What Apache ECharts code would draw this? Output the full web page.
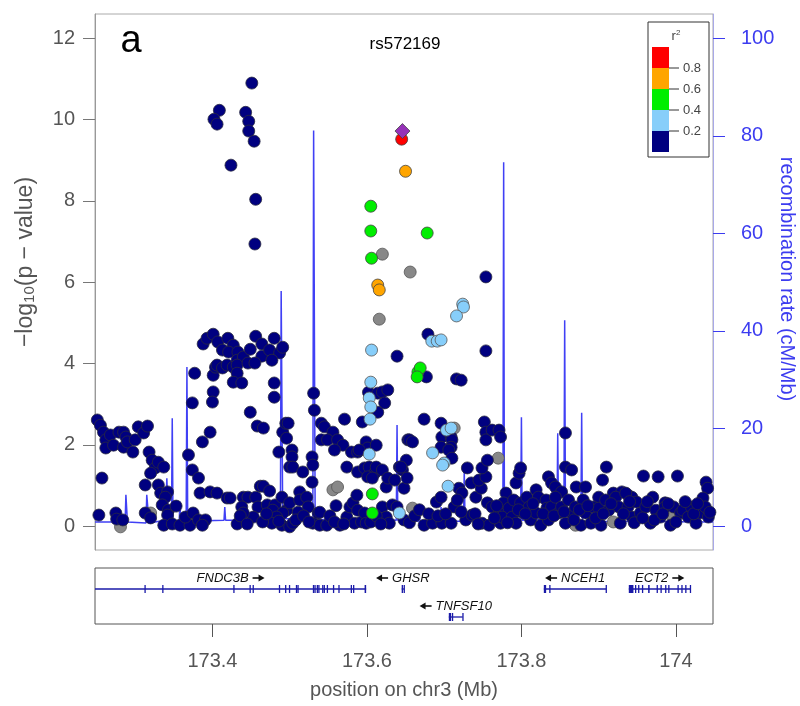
<!DOCTYPE html>
<html>
<head>
<meta charset="utf-8">
<script src="https://cdn.jsdelivr.net/npm/echarts@6/dist/echarts.min.js"></script>
<style>html,body{margin:0;padding:0;background:#fff}#c{width:800px;height:706px}</style>
</head>
<body>
<div id="c"></div>
<script>
// ---------- data ----------
const X_MIN = 173.248, X_MAX = 174.048;
const xTicks = [173.4, 173.6, 173.8, 174];
const pTicks = [0, 2, 4, 6, 8, 10, 12];
const recTicks = [0, 20, 40, 60, 80, 100];
const legendBreaks = ['0.8', '0.6', '0.4', '0.2'];

const leadSnp = [[173.646, 9.72]];
const snpRed = [[173.645, 9.52]];
const snpOrange = [[173.650, 8.73], [173.614, 5.93], [173.616, 5.81]];
const snpGreen = [[173.605, 7.87], [173.605, 7.26], [173.606, 6.59], [173.678, 7.21], [173.666, 3.79], [173.669, 3.89], [173.665, 3.67], [173.607, 0.79], [173.607, 0.32]];
const snpLightBlue = [[173.724, 5.46], [173.725, 5.39], [173.716, 5.17], [173.684, 4.55], [173.691, 4.55], [173.696, 4.58], [173.606, 4.33], [173.605, 3.54], [173.603, 3.15], [173.605, 2.93], [173.604, 2.63], [173.603, 1.77], [173.642, 0.32], [173.685, 1.80], [173.703, 2.36], [173.709, 2.41], [173.700, 1.55], [173.698, 1.50], [173.705, 0.98]];
const snpGray = [[173.620, 6.69], [173.656, 6.25], [173.616, 5.09], [173.770, 1.67], [173.556, 0.89], [173.562, 0.96], [173.281, -0.02], [173.320, 0.32], [173.659, 0.44], [173.996, 0.22], [173.919, 0.10], [173.870, 0.02], [173.713, 2.41]];
const snpNavy = [
 [173.451,10.90],[173.409,10.23],[173.402,10.01],[173.406,9.89],[173.443,10.18],[173.447,9.96],[173.447,9.72],[173.454,9.47],[173.424,8.88],[173.456,8.04],[173.455,6.94],
 [173.754,6.13],[173.754,4.31],[173.679,4.72],[173.639,4.18],
 [173.388,4.48],[173.393,4.62],[173.401,4.72],[173.407,4.53],[173.413,4.33],[173.420,4.62],[173.427,4.45],[173.421,4.28],[173.433,4.28],[173.432,4.08],[173.440,4.16],[173.449,4.35],[173.456,4.67],[173.464,4.48],[173.464,4.18],[173.474,4.33],[173.480,4.62],[173.487,4.26],[173.491,4.40],
 [173.401,3.71],[173.404,3.91],[173.406,3.96],[173.413,3.89],[173.419,3.96],[173.427,3.91],[173.432,3.96],[173.432,3.76],[173.427,3.54],[173.438,3.52],[173.446,4.01],[173.455,4.01],[173.477,4.08],[173.401,3.30],[173.400,3.05],[173.377,3.76],[173.374,3.03],[173.480,3.52],[173.480,3.17],
 [173.251,2.61],[173.255,2.48],[173.259,2.31],[173.262,2.12],[173.262,1.92],[173.268,2.24],[173.272,1.99],[173.279,2.31],[173.285,2.31],[173.288,2.19],[173.285,1.94],[173.290,2.07],[173.297,1.82],[173.300,2.12],[173.304,2.44],[173.311,2.29],[173.316,2.46],[173.318,1.82],[173.322,1.62],[173.326,1.43],[173.320,1.30],[173.330,1.57],[173.337,1.45],[173.257,1.18],[173.313,1.01],[173.330,1.01],[173.333,0.81],[173.342,0.84],[173.339,0.71],[173.335,0.52],[173.343,0.39],[173.353,0.49],[173.342,0.27],[173.337,0.02],[173.348,0.05],[173.358,0.02],[173.371,0.02],[173.365,0.22],[173.375,0.32],[173.382,0.15],[173.391,0.15],[173.387,0.02],[173.253,0.27],[173.275,0.32],[173.276,0.17],[173.284,0.15],[173.313,0.32],[173.320,0.20],[173.369,1.75],[173.374,1.38],[173.382,1.18],[173.387,2.07],[173.397,2.31],[173.384,0.81],[173.397,0.84],[173.406,0.81],[173.419,0.69],[173.423,0.69],[173.449,2.80],[173.458,2.46],[173.466,2.41],[173.486,1.82],[173.491,2.31],[173.495,2.53],[173.498,2.53],[173.496,2.16],[173.503,1.87],[173.503,1.70],[173.500,1.45],[173.504,1.45],[173.517,1.33],[173.529,1.70],[173.530,1.50],[173.529,1.08],[173.531,3.27],[173.532,2.85],[173.440,0.71],[173.446,0.71],[173.456,0.71],[173.462,0.98],[173.466,0.98],[173.474,0.86],[173.459,0.47],[173.471,0.52],[173.481,0.52],[173.478,0.39],[173.490,0.71],[173.496,0.39],[173.500,0.57],[173.513,0.84],[173.513,0.64],[173.522,0.71],[173.524,0.47],[173.511,0.34],[173.491,0.32],[173.483,0.22],[173.477,0.07],[173.453,0.22],[173.438,0.47],[173.440,0.32],[173.490,0.02],[173.500,-0.02],[173.504,0.07],[173.530,0.07],[173.539,0.02],[173.548,0.02],[173.537,0.32],[173.539,0.34],
 [173.541,2.53],[173.545,2.44],[173.556,2.31],[173.541,2.12],[173.549,2.12],[173.562,2.12],[173.569,1.99],[173.558,1.87],[173.571,2.63],[173.580,1.82],[173.588,1.82],[173.599,2.07],[173.601,1.92],[173.612,1.99],[173.594,2.56],[173.602,3.29],[173.614,3.27],[173.620,3.30],[173.627,3.35],[173.623,3.03],[173.614,2.80],[173.590,1.87],[173.574,1.45],[173.588,1.33],[173.597,1.43],[173.603,1.45],[173.610,1.30],[173.612,1.45],[173.620,1.38],[173.601,1.21],[173.607,1.18],[173.625,0.96],[173.627,1.18],[173.636,1.13],[173.642,1.45],[173.646,1.38],[173.648,0.93],[173.651,1.62],[173.653,2.12],[173.565,0.02],[173.574,0.22],[173.578,0.47],[173.582,0.57],[173.587,0.76],[173.588,0.39],[173.584,0.07],[173.593,0.10],[173.597,0.32],[173.599,0.07],[173.620,0.47],[173.625,0.22],[173.629,0.07],[173.633,0.52],[173.639,0.47],[173.648,0.15],
 [173.677,3.67],[173.716,3.62],[173.722,3.59],[173.674,2.63],[173.655,2.12],[173.659,2.07],[173.696,2.53],[173.697,2.19],[173.696,1.94],[173.709,2.19],[173.710,2.12],[173.709,1.94],[173.706,1.87],[173.710,1.67],[173.644,1.45],[173.652,1.18],[173.690,0.59],[173.696,0.71],[173.674,0.02],[173.685,0.07],[173.697,0.07],[173.709,0.07],[173.713,0.47],[173.719,0.93],[173.723,0.81],[173.717,0.64],[173.728,0.15],[173.735,1.06],[173.741,0.71],[173.748,0.93],[173.745,1.13],[173.754,1.21],[173.749,1.43],[173.730,1.43],[173.752,2.56],[173.754,2.31],[173.754,2.12],[173.762,2.36],[173.771,2.36],[173.773,2.19],[173.756,1.62],[173.736,0.27],[173.749,0.07],[173.758,0.02],[173.756,0.57],[173.762,0.47],[173.771,0.32],[173.773,0.07],[173.857,2.29],[173.857,1.45],[173.865,1.38],[173.793,1.06],[173.797,1.30],[173.799,1.43],[173.819,0.89],[173.835,1.21],[173.839,1.06],[173.844,0.96],[173.852,0.84],[173.871,0.96],[173.883,0.96],[173.900,0.71],[173.910,1.45],[173.905,1.13],[173.919,0.81],[173.930,0.84],[173.938,0.76],[173.943,0.71],[173.958,1.23],[173.977,1.21],[174.002,1.23],[173.970,0.71],[173.986,0.57],[174.039,1.08],[174.041,0.93],[174.035,0.69],
 [173.780,0.81],[173.777,0.57],[173.784,0.44],[173.775,0.22],[173.788,0.22],[173.793,0.07],[173.790,0.64],[173.799,0.57],[173.801,0.34],[173.807,0.71],[173.810,0.47],[173.812,0.15],[173.819,0.32],[173.822,0.71],[173.825,0.02],[173.832,0.64],[173.833,0.44],[173.835,0.15],[173.839,0.47],[173.844,0.71],[173.848,0.32],[173.852,0.47],[173.857,0.07],[173.861,0.64],[173.865,0.32],[173.870,0.47],[173.877,0.02],[173.880,0.64],[173.883,0.32],[173.890,0.07],[173.893,0.47],[173.900,0.44],[173.903,0.02],[173.909,0.64],[173.913,0.39],[173.922,0.71],[173.926,0.47],[173.928,0.07],[173.935,0.81],[173.938,0.47],[173.943,0.22],[173.949,0.59],[173.954,0.32],[173.961,0.47],[173.967,0.07],[173.974,0.39],[173.980,0.22],[173.986,0.47],[173.993,0.02],[173.997,0.47],[174.006,0.32],[174.009,0.39],[174.016,0.22],[174.020,0.47],[174.026,0.07],[174.031,0.32],[174.038,0.47],[174.042,0.22],[174.044,0.34],
 [173.432,0.05],[173.436,0.25],[173.445,0.05],[173.465,0.10],[173.470,0.30],[173.486,0.12],[173.508,0.15],[173.518,0.25],[173.525,0.10],[173.552,0.25],[173.558,0.10],[173.560,0.50],[173.570,0.05],[173.605,0.10],[173.612,0.25],[173.618,0.05],[173.655,0.08],[173.662,0.25],[173.668,0.40],[173.680,0.30],[173.692,0.25],[173.702,0.30],[173.722,0.35],[173.740,0.30],[173.744,0.05],[173.765,0.20],[173.768,0.50],[173.782,0.08],[173.796,0.40],[173.805,0.30],[173.815,0.55],[173.828,0.30],[173.842,0.25],[173.855,0.35],[173.868,0.15],[173.875,0.40],[173.886,0.50],[173.896,0.20],[173.906,0.30],[173.916,0.55],[173.932,0.30],[173.940,0.60],[173.946,0.08],[173.957,0.20],[173.963,0.60],[173.972,0.15],[173.983,0.30],[173.990,0.55],[174.000,0.10],[174.012,0.60],[174.023,0.30],[174.028,0.55]
];

const recombRate = [
 [173.248,0.8],[173.287,0.8],[173.288,6.4],[173.2895,6.4],[173.290,0.8],[173.314,0.6],[173.315,6.4],[173.317,6.0],[173.318,0.6],[173.339,1.2],[173.341,9.8],[173.343,1.0],[173.347,1.0],[173.348,22.1],[173.349,1.0],[173.357,1.0],[173.358,5.0],[173.359,1.0],[173.366,1.0],[173.367,32.6],[173.368,1.0],[173.415,1.2],[173.416,3.9],[173.417,1.2],[173.488,1.2],[173.489,48.2],[173.4905,48.2],[173.491,1.5],[173.530,1.5],[173.531,81.1],[173.532,81.1],[173.533,1.4],[173.638,1.2],[173.639,20.7],[173.640,1.2],[173.667,1.0],[173.668,2.0],[173.669,1.0],[173.695,1.0],[173.696,3.9],[173.697,1.0],[173.725,1.0],[173.726,11.5],[173.727,1.0],[173.776,1.0],[173.777,74.6],[173.778,1.2],[173.799,1.2],[173.800,22.3],[173.801,1.2],[173.846,1.5],[173.847,19.0],[173.848,2.0],[173.855,2.0],[173.856,42.2],[173.857,2.5],[173.877,2.0],[173.878,23.2],[173.879,1.0],[173.903,1.0],[173.904,2.3],[173.905,1.0],[174.048,0.8]
];

const geneNames = ['FNDC3B', 'GHSR', 'TNFSF10', 'NCEH1', 'ECT2'];
const geneStarts = [173.20, 173.645, 173.706, 173.829, 173.939];
const geneEnds = [173.599, 173.648, 173.724, 173.910, 174.019];
const geneRows = [1, 1, 2, 1, 1];
const geneStrands = ['+', '-', '-', '-', '+'];
const geneExons = [
 [[173.312,173.3125],[173.335,173.3355],[173.427,173.4275],[173.448,173.4485],[173.452,173.4525],[173.486,173.4865],[173.494,173.4945],[173.499,173.4995],[173.508,173.5085],[173.510,173.5105],[173.530,173.531],[173.532,173.5325],[173.535,173.536],[173.537,173.5375],[173.542,173.543],[173.544,173.5445],[173.548,173.5485],[173.556,173.5565],[173.563,173.5635],[173.579,173.5795],[173.582,173.5825],[173.597,173.599]],
 [[173.645,173.6455],[173.6475,173.648]],
 [[173.706,173.709],[173.710,173.7105],[173.7235,173.724]],
 [[173.829,173.832],[173.836,173.8365],[173.909,173.910]],
 [[173.939,173.945],[173.947,173.9475],[173.951,173.9515],[173.956,173.9565],[173.964,173.966],[173.975,173.9755],[173.980,173.9805],[173.986,173.9865],[173.990,173.9905],[174.002,174.0025],[174.007,174.0075],[174.012,174.0125],[174.018,174.019]]
];

// ---------- chart ----------
const FONT = 'Liberation Sans, Arial, Helvetica, sans-serif';
const GREY = '#555555';
const BLUE = '#3c3cf0';
const GENE_COLOR = '#1a1aa8';
const chart = echarts.init(document.getElementById('c'), null, {renderer: 'canvas'});

const measureCtx = document.createElement('canvas').getContext('2d');
function textWidth(t, font) { measureCtx.font = font; return measureCtx.measureText(t).width; }

function scatter(name, data, color, border, z, symbol, size) {
  return {
    name, type: 'scatter', xAxisIndex: 0, yAxisIndex: 0, data,
    symbol: symbol || 'circle', symbolSize: size || 12, z,
    itemStyle: {color, borderColor: border, borderWidth: 0.8, opacity: 1},
    emphasis: {disabled: true}, silent: true
  };
}

function arrowShapes(x0, y, dir) {
  const len = 12, head = 6;
  const tip = x0 + dir * len;
  return [
    {type: 'line', shape: {x1: x0, y1: y, x2: tip - dir * 3, y2: y}, style: {stroke: '#111', lineWidth: 1.6}},
    {type: 'polygon', shape: {points: [[tip, y], [tip - dir * head, y - 3.5], [tip - dir * head, y + 3.5]]}, style: {fill: '#111'}}
  ];
}

const legendColors = ['#FF0000', '#FFA500', '#00EE00', '#87CEFA', '#000080'];
const legendGraphics = [
  {type: 'rect', shape: {x: 648, y: 22, width: 61, height: 135}, style: {fill: '#fff', stroke: '#333', lineWidth: 1}, z: 100}
];
legendColors.forEach((c, i) => {
  legendGraphics.push({type: 'rect', shape: {x: 652, y: 47 + i * 21, width: 17, height: 21}, style: {fill: c, stroke: null}, z: 101});
});
legendBreaks.forEach((t, i) => {
  const y = 68 + i * 21;
  legendGraphics.push({type: 'line', shape: {x1: 669, y1: y, x2: 679, y2: y}, style: {stroke: '#333', lineWidth: 1}, z: 101});
  legendGraphics.push({type: 'text', style: {text: t, x: 683, y: y, textAlign: 'left', textVerticalAlign: 'middle', fontSize: 13, fontFamily: FONT, fill: '#444'}, z: 101});
});
legendGraphics.push({type: 'text', style: {text: '{r|r}{s|2}', x: 676, y: 36, textAlign: 'center', textVerticalAlign: 'middle', rich: {r: {fontSize: 13, fontFamily: FONT, fill: '#444'}, s: {fontSize: 8, fontFamily: FONT, fill: '#444', verticalAlign: 'top', lineHeight: 14}}}, z: 101});

const option = {
  animation: false,
  backgroundColor: '#fff',
  textStyle: {fontFamily: FONT},
  grid: [
    {left: 95, top: 14, width: 618, height: 536, show: true, borderColor: '#aaaaaa', borderWidth: 1, containLabel: false, outerBoundsMode: 'none'},
    {left: 95, top: 568, width: 618, height: 56, show: true, borderColor: '#555555', borderWidth: 1, containLabel: false, outerBoundsMode: 'none'}
  ],
  xAxis: [
    {gridIndex: 0, type: 'value', min: X_MIN, max: X_MAX, show: false},
    {gridIndex: 1, type: 'value', min: X_MIN, max: X_MAX,
     axisLine: {show: false},
     axisTick: {show: true, customValues: xTicks, length: 13, lineStyle: {color: GREY}},
     axisLabel: {customValues: xTicks, fontSize: 20, color: GREY, margin: 27, fontFamily: FONT},
     splitLine: {show: false},
     name: 'position on chr3 (Mb)', nameLocation: 'middle', nameGap: 56,
     nameTextStyle: {fontSize: 20, color: GREY, fontFamily: FONT}}
  ],
  yAxis: [
    {gridIndex: 0, type: 'value', min: -0.59, max: 12.6,
     axisLine: {show: true, lineStyle: {color: '#999'}},
     axisTick: {show: true, customValues: pTicks, length: 12, lineStyle: {color: '#777'}},
     axisLabel: {customValues: pTicks, fontSize: 20, color: GREY, margin: 20, fontFamily: FONT},
     splitLine: {show: false}},
    {gridIndex: 0, type: 'value', position: 'right', min: -4.92, max: 105,
     axisLine: {show: true, lineStyle: {color: '#a8a8e8'}},
     axisTick: {show: true, customValues: recTicks, length: 12, lineStyle: {color: BLUE}},
     axisLabel: {customValues: recTicks, fontSize: 20, color: BLUE, margin: 28, fontFamily: FONT},
     splitLine: {show: false}},
    {gridIndex: 1, type: 'value', min: 0.25, max: 2.25, inverse: true, show: false}
  ],
  series: [
    {name: 'recomb', type: 'line', xAxisIndex: 0, yAxisIndex: 1, data: recombRate, showSymbol: false, symbol: 'none',
     lineStyle: {color: '#4040f5', width: 1.5}, z: 1, silent: true},
    scatter('gray', snpGray, '#888888', '#555555', 2),
    scatter('navy', snpNavy, '#000080', '#2a2a40', 3),
    scatter('lightblue', snpLightBlue, '#87CEFA', '#555', 4),
    scatter('green', snpGreen, '#00EE00', '#444', 5),
    scatter('orange', snpOrange, '#FFA500', '#444', 6),
    scatter('red', snpRed, '#FF0000', '#444', 7),
    scatter('lead', leadSnp, '#9632B8', '#444', 8, 'diamond', 15),
    {name: 'genes', type: 'custom', xAxisIndex: 1, yAxisIndex: 2, clip: true, silent: true,
     data: geneNames.map((n, i) => [geneStarts[i], geneRows[i], i]),
     renderItem: function (params, api) {
       const i = api.value(2);
       const row = geneRows[i];
       const s = Math.max(geneStarts[i], X_MIN), e = Math.min(geneEnds[i], X_MAX);
       const p1 = api.coord([s, row]);
       const p2 = api.coord([e, row]);
       const children = [{type: 'line', shape: {x1: p1[0], y1: p1[1], x2: p2[0], y2: p1[1]}, style: {stroke: GENE_COLOR, lineWidth: 1.3}}];
       geneExons[i].forEach(ex => {
         const a = api.coord([ex[0], row]), b = api.coord([ex[1], row]);
         const w = Math.max(1.3, b[0] - a[0]);
         children.push({type: 'rect', shape: {x: a[0], y: p1[1] - 4, width: w, height: 8}, style: {fill: GENE_COLOR}});
       });
       const font = 'italic 13px ' + FONT;
       const tw = textWidth(geneNames[i], font);
       const gap = 4, alen = 12;
       const total = tw + gap + alen;
       const cx = (p1[0] + p2[0]) / 2;
       const ly = p1[1] - 11;
       const left = cx - total / 2;
       let textX;
       if (geneStrands[i] === '+') {
         textX = left;
         arrowShapes(left + tw + gap, ly, 1).forEach(c => children.push(c));
       } else {
         arrowShapes(left + alen, ly, -1).forEach(c => children.push(c));
         textX = left + alen + gap;
       }
       children.push({type: 'text', style: {text: geneNames[i], x: textX, y: ly, textAlign: 'left', textVerticalAlign: 'middle', align: 'left', verticalAlign: 'middle', font: font, fill: '#111'}});
       return {type: 'group', children};
     }}
  ],
  graphic: [
    {type: 'text', style: {text: 'rs572169', x: 405, y: 44, textAlign: 'center', textVerticalAlign: 'middle', fontSize: 17, fontFamily: FONT, fill: '#000'}, z: 100},
    {type: 'text', style: {text: 'a', x: 131, y: 42, textAlign: 'center', textVerticalAlign: 'middle', fontSize: 38, fontFamily: FONT, fill: '#000'}, z: 100},
    {type: 'text', x: 23, y: 262, rotation: Math.PI / 2,
     style: {text: '{a|\u2212log}{s|10}{a|(p \u2212 value)}', textAlign: 'center', textVerticalAlign: 'middle',
       rich: {a: {fontSize: 23, fontFamily: FONT, fill: GREY, lineHeight: 28, verticalAlign: 'bottom'},
              s: {fontSize: 15, fontFamily: FONT, fill: GREY, lineHeight: 16, verticalAlign: 'bottom'}}}, z: 100},
    {type: 'text', x: 787, y: 279, rotation: -Math.PI / 2,
     style: {text: 'recombination rate (cM/Mb)', textAlign: 'center', textVerticalAlign: 'middle', fontSize: 20, fontFamily: FONT, fill: BLUE}, z: 100}
  ].concat(legendGraphics)
};
chart.setOption(option);
</script>
</body>
</html>
